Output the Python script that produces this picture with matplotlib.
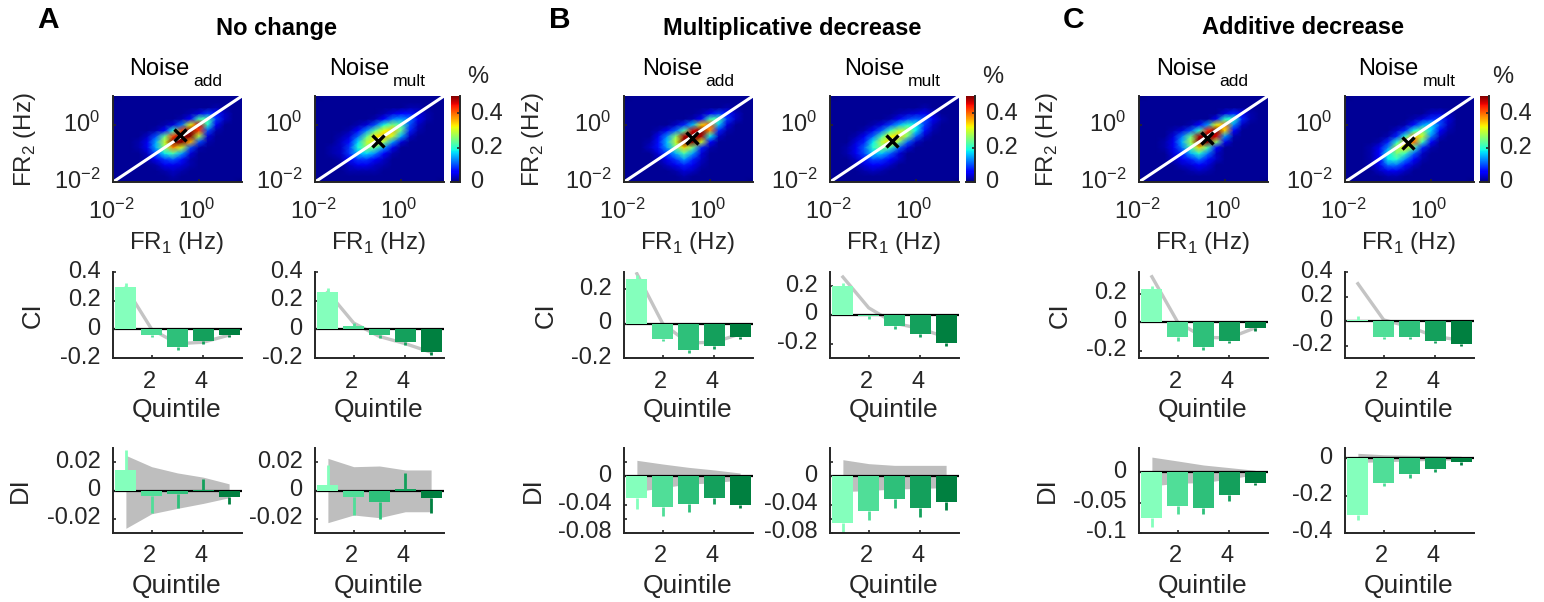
import numpy as np
import matplotlib
matplotlib.use("Agg")
import matplotlib.pyplot as plt
from matplotlib.transforms import ScaledTranslation

plt.rcParams["font.family"] = ["Liberation Sans", "DejaVu Sans"]

W, H = 1544, 602
TEXT = "#262626"

# panel order: A add, A mult, B add, B mult, C add, C mult
group_titles = ["No change", "Multiplicative decrease", "Additive decrease"]
group_letters = ["A", "B", "C"]
noise_subs = ["add", "mult"]
quintiles = [1, 2, 3, 4, 5]
bar_colors = ["#84FFBC", "#50DE98", "#2EC07A", "#14A05C", "#008040"]

# node positions of the heat maps, FR from 10^-2 to 10^1
grid_hz = [0.01, 0.016, 0.025, 0.04, 0.063, 0.1, 0.16, 0.25, 0.4, 0.63, 1.0, 1.6, 2.5, 4.0, 6.3, 10.0]

# heat map values in hundredths of a percent, top row first
heat_a_add = [
    [0, 1, 1, 1, 1, 1, 1, 1, 1, 1, 1, 1, 1, 1, 1, 1],
    [1, 1, 1, 1, 1, 1, 1, 1, 1, 1, 1, 1, 1, 1, 1, 1],
    [1, 1, 1, 1, 1, 1, 1, 1, 1, 1, 1, 1, 2, 1, 1, 1],
    [1, 1, 1, 1, 1, 1, 1, 1, 1, 2, 4, 9, 7, 3, 1, 1],
    [1, 1, 1, 1, 1, 1, 1, 1, 2, 6, 22, 22, 9, 3, 1, 1],
    [1, 1, 1, 1, 1, 1, 2, 4, 12, 32, 46, 20, 5, 1, 1, 1],
    [1, 1, 1, 1, 1, 2, 6, 20, 42, 50, 42, 10, 2, 1, 1, 1],
    [1, 1, 1, 1, 3, 10, 24, 42, 50, 50, 28, 4, 1, 1, 1, 1],
    [1, 1, 1, 2, 5, 15, 30, 50, 50, 36, 10, 2, 1, 1, 1, 1],
    [1, 1, 1, 2, 5, 15, 26, 38, 30, 10, 2, 1, 1, 1, 1, 1],
    [1, 1, 1, 1, 3, 10, 18, 22, 14, 4, 1, 1, 1, 1, 1, 1],
    [1, 1, 1, 1, 2, 5, 9, 11, 7, 2, 1, 1, 1, 1, 1, 1],
    [1, 1, 1, 1, 1, 2, 5, 5, 4, 2, 1, 1, 1, 1, 1, 1],
    [1, 1, 1, 1, 1, 1, 2, 3, 2, 1, 1, 1, 1, 1, 1, 1],
    [1, 1, 1, 1, 1, 1, 1, 2, 1, 1, 1, 1, 1, 1, 1, 1],
    [0, 1, 1, 1, 1, 1, 1, 1, 1, 1, 1, 1, 1, 1, 1, 0],
]
heat_a_mult = [
    [0, 1, 1, 1, 1, 1, 1, 1, 1, 1, 1, 1, 1, 1, 1, 1],
    [1, 1, 1, 1, 1, 1, 1, 1, 1, 1, 1, 1, 1, 1, 1, 1],
    [1, 1, 1, 1, 1, 1, 1, 1, 1, 1, 1, 2, 2, 1, 1, 1],
    [1, 1, 1, 1, 1, 1, 1, 1, 2, 4, 6, 7, 4, 2, 1, 1],
    [1, 1, 1, 1, 1, 1, 1, 2, 6, 12, 14, 12, 5, 2, 1, 1],
    [1, 1, 1, 1, 1, 2, 4, 10, 19, 25, 22, 10, 3, 1, 1, 1],
    [1, 1, 1, 1, 2, 6, 13, 23, 32, 35, 24, 8, 2, 1, 1, 1],
    [1, 1, 1, 2, 4, 11, 23, 33, 35, 30, 15, 3, 1, 1, 1, 1],
    [1, 1, 1, 3, 7, 17, 29, 33, 27, 14, 4, 1, 1, 1, 1, 1],
    [1, 1, 2, 3, 9, 19, 26, 23, 14, 5, 1, 1, 1, 1, 1, 1],
    [1, 1, 2, 3, 9, 15, 17, 13, 6, 2, 1, 1, 1, 1, 1, 1],
    [1, 1, 1, 2, 6, 9, 9, 6, 3, 1, 1, 1, 1, 1, 1, 1],
    [1, 1, 1, 1, 3, 5, 5, 3, 2, 1, 1, 1, 1, 1, 1, 1],
    [1, 1, 1, 1, 2, 2, 2, 2, 1, 1, 1, 1, 1, 1, 1, 1],
    [1, 1, 1, 1, 1, 1, 1, 1, 1, 1, 1, 1, 1, 1, 1, 1],
    [0, 1, 1, 1, 1, 1, 1, 1, 1, 1, 1, 1, 1, 1, 1, 0],
]
heat_b_add = [
    [0, 1, 1, 1, 1, 1, 1, 1, 1, 1, 1, 1, 1, 1, 1, 1],
    [1, 1, 1, 1, 1, 1, 1, 1, 1, 1, 1, 1, 1, 1, 1, 1],
    [1, 1, 1, 1, 1, 1, 1, 1, 1, 1, 1, 1, 2, 1, 1, 1],
    [1, 1, 1, 1, 1, 1, 1, 1, 1, 2, 5, 9, 7, 3, 1, 1],
    [1, 1, 1, 1, 1, 1, 1, 1, 2, 6, 22, 22, 9, 3, 1, 1],
    [1, 1, 1, 1, 1, 1, 3, 8, 16, 34, 40, 16, 4, 1, 1, 1],
    [1, 1, 1, 1, 2, 5, 11, 22, 46, 50, 38, 8, 2, 1, 1, 1],
    [1, 1, 1, 1, 5, 13, 26, 48, 50, 48, 18, 3, 1, 1, 1, 1],
    [1, 1, 1, 2, 7, 16, 30, 50, 50, 30, 6, 1, 1, 1, 1, 1],
    [1, 1, 1, 3, 7, 14, 24, 34, 24, 8, 2, 1, 1, 1, 1, 1],
    [1, 1, 1, 1, 4, 9, 15, 22, 14, 4, 1, 1, 1, 1, 1, 1],
    [1, 1, 1, 1, 2, 5, 9, 14, 8, 3, 1, 1, 1, 1, 1, 1],
    [1, 1, 1, 1, 1, 3, 5, 8, 5, 2, 1, 1, 1, 1, 1, 1],
    [1, 1, 1, 1, 1, 1, 2, 4, 3, 1, 1, 1, 1, 1, 1, 1],
    [1, 1, 1, 1, 1, 1, 1, 2, 1, 1, 1, 1, 1, 1, 1, 1],
    [0, 1, 1, 1, 1, 1, 1, 1, 1, 1, 1, 1, 1, 1, 1, 0],
]
heat_b_mult = [
    [0, 1, 1, 1, 1, 1, 1, 1, 1, 1, 1, 1, 1, 1, 1, 1],
    [1, 1, 1, 1, 1, 1, 1, 1, 1, 1, 1, 1, 1, 1, 1, 1],
    [1, 1, 1, 1, 1, 1, 1, 1, 1, 1, 1, 2, 1, 1, 1, 1],
    [1, 1, 1, 1, 1, 1, 1, 1, 2, 3, 4, 5, 3, 1, 1, 1],
    [1, 1, 1, 1, 1, 1, 1, 2, 5, 9, 11, 10, 5, 2, 1, 1],
    [1, 1, 1, 1, 1, 2, 4, 9, 15, 20, 18, 9, 3, 1, 1, 1],
    [1, 1, 1, 1, 2, 5, 11, 21, 29, 28, 18, 7, 2, 1, 1, 1],
    [1, 1, 1, 2, 5, 11, 22, 32, 34, 25, 11, 3, 1, 1, 1, 1],
    [1, 1, 1, 4, 8, 18, 29, 34, 25, 11, 3, 1, 1, 1, 1, 1],
    [1, 1, 2, 5, 11, 20, 25, 21, 11, 4, 1, 1, 1, 1, 1, 1],
    [1, 1, 2, 5, 10, 16, 16, 11, 4, 1, 1, 1, 1, 1, 1, 1],
    [1, 1, 1, 3, 7, 10, 9, 6, 3, 1, 1, 1, 1, 1, 1, 1],
    [1, 1, 1, 2, 4, 6, 5, 3, 1, 1, 1, 1, 1, 1, 1, 1],
    [1, 1, 1, 1, 2, 3, 2, 1, 1, 1, 1, 1, 1, 1, 1, 1],
    [1, 1, 1, 1, 1, 1, 1, 1, 1, 1, 1, 1, 1, 1, 1, 1],
    [0, 1, 1, 1, 1, 1, 1, 1, 1, 1, 1, 1, 1, 1, 1, 0],
]
heat_c_add = [
    [0, 1, 1, 1, 1, 1, 1, 1, 1, 1, 1, 1, 1, 1, 1, 1],
    [1, 1, 1, 1, 1, 1, 1, 1, 1, 1, 1, 1, 1, 1, 1, 1],
    [1, 1, 1, 1, 1, 1, 1, 1, 1, 1, 1, 1, 1, 1, 1, 1],
    [1, 1, 1, 1, 1, 1, 1, 1, 1, 1, 4, 8, 5, 2, 1, 1],
    [1, 1, 1, 1, 1, 1, 1, 1, 1, 5, 20, 20, 8, 2, 1, 1],
    [1, 1, 1, 1, 1, 1, 2, 6, 14, 32, 38, 13, 3, 1, 1, 1],
    [1, 1, 1, 1, 2, 4, 10, 20, 44, 50, 34, 6, 1, 1, 1, 1],
    [1, 1, 1, 1, 4, 12, 24, 48, 50, 46, 14, 2, 1, 1, 1, 1],
    [1, 1, 1, 2, 5, 15, 28, 50, 50, 26, 5, 1, 1, 1, 1, 1],
    [1, 1, 1, 2, 5, 12, 22, 34, 22, 6, 1, 1, 1, 1, 1, 1],
    [1, 1, 1, 1, 4, 8, 15, 20, 12, 3, 1, 1, 1, 1, 1, 1],
    [1, 1, 1, 1, 3, 5, 8, 12, 7, 3, 1, 1, 1, 1, 1, 1],
    [1, 1, 1, 1, 1, 3, 4, 6, 4, 1, 1, 1, 1, 1, 1, 1],
    [1, 1, 1, 1, 1, 1, 2, 3, 2, 1, 1, 1, 1, 1, 1, 1],
    [1, 1, 1, 1, 1, 1, 1, 1, 1, 1, 1, 1, 1, 1, 1, 1],
    [0, 1, 1, 1, 1, 1, 1, 1, 1, 1, 1, 1, 1, 1, 1, 0],
]
heat_c_mult = [
    [0, 1, 1, 1, 1, 1, 1, 1, 1, 1, 1, 1, 1, 1, 1, 1],
    [1, 1, 1, 1, 1, 1, 1, 1, 1, 1, 1, 1, 1, 1, 1, 1],
    [1, 1, 1, 1, 1, 1, 1, 1, 1, 1, 1, 1, 1, 1, 1, 1],
    [1, 1, 1, 1, 1, 1, 1, 1, 1, 1, 3, 4, 2, 1, 1, 1],
    [1, 1, 1, 1, 1, 1, 1, 1, 2, 4, 8, 9, 4, 1, 1, 1],
    [1, 1, 1, 1, 1, 1, 1, 2, 7, 14, 17, 10, 3, 1, 1, 1],
    [1, 1, 1, 1, 1, 1, 3, 8, 19, 25, 17, 6, 2, 1, 1, 1],
    [1, 1, 1, 1, 1, 2, 8, 20, 36, 30, 13, 3, 1, 1, 1, 1],
    [1, 1, 1, 1, 2, 8, 20, 36, 40, 21, 6, 1, 1, 1, 1, 1],
    [1, 1, 1, 2, 5, 13, 28, 33, 22, 8, 2, 1, 1, 1, 1, 1],
    [1, 1, 1, 2, 6, 18, 25, 21, 11, 3, 1, 1, 1, 1, 1, 1],
    [1, 1, 1, 2, 6, 18, 20, 13, 6, 2, 1, 1, 1, 1, 1, 1],
    [1, 1, 1, 2, 5, 12, 12, 7, 3, 1, 1, 1, 1, 1, 1, 1],
    [1, 1, 1, 1, 3, 5, 5, 3, 1, 1, 1, 1, 1, 1, 1, 1],
    [1, 1, 1, 1, 1, 2, 2, 1, 1, 1, 1, 1, 1, 1, 1, 1],
    [0, 1, 1, 1, 1, 1, 1, 1, 1, 1, 1, 1, 1, 1, 1, 0],
]
heat_maps = [heat_a_add, heat_a_mult, heat_b_add, heat_b_mult, heat_c_add, heat_c_mult]

# black cross on each heat map (FR1, FR2)
cross_fr1 = [0.37, 0.29, 0.38, 0.28, 0.38, 0.29]
cross_fr2 = [0.44, 0.28, 0.35, 0.275, 0.35, 0.235]

# CI row
ci_bars = [
    [0.295, -0.037, -0.126, -0.084, -0.037],
    [0.26, 0.026, -0.042, -0.09, -0.16],
    [0.262, -0.087, -0.156, -0.133, -0.075],
    [0.2, -0.005, -0.08, -0.136, -0.198],
    [0.229, -0.106, -0.176, -0.134, -0.044],
    [0.01, -0.126, -0.126, -0.159, -0.183],
]
ci_tips = [
    [0.32, -0.056, -0.142, -0.102, -0.05],
    [0.286, 0.042, -0.06, -0.107, -0.18],
    [0.285, -0.104, -0.173, -0.146, -0.087],
    [0.222, -0.025, -0.1, -0.155, -0.217],
    [0.252, -0.13, -0.197, -0.148, -0.06],
    [0.038, -0.145, -0.148, -0.18, -0.2],
]
ci_lines = [
    [0.29, 0.0, -0.1, -0.09, -0.04],
    [0.26, 0.044, -0.05, -0.1, -0.16],
    [0.29, 0.0, -0.113, -0.108, -0.06],
    [0.265, 0.05, -0.057, -0.095, -0.155],
    [0.317, 0.0, -0.106, -0.11, -0.04],
    [0.305, 0.01, -0.046, -0.126, -0.154],
]
ci_ylims = [(-0.2, 0.4), (-0.2, 0.4), (-0.2, 0.3), (-0.3, 0.3), (-0.25, 0.35), (-0.3, 0.4)]
ci_ticks = [
    [-0.2, 0, 0.2, 0.4],
    [-0.2, 0, 0.2, 0.4],
    [-0.2, 0, 0.2],
    [-0.2, 0, 0.2],
    [-0.2, 0, 0.2],
    [-0.2, 0, 0.2, 0.4],
]
ci_labels = [
    ["-0.2", "0", "0.2", "0.4"],
    ["-0.2", "0", "0.2", "0.4"],
    ["-0.2", "0", "0.2"],
    ["-0.2", "0", "0.2"],
    ["-0.2", "0", "0.2"],
    ["-0.2", "0", "0.2", "0.4"],
]

# DI row
di_bars = [
    [0.0147, -0.004, -0.0028, 0.0007, -0.0047],
    [0.0042, -0.0047, -0.0082, 0.0012, -0.0054],
    [-0.031, -0.0438, -0.0395, -0.031, -0.041],
    [-0.0664, -0.0494, -0.0325, -0.0452, -0.0367],
    [-0.076, -0.0563, -0.058, -0.038, -0.017],
    [-0.306, -0.131, -0.083, -0.057, -0.019],
]
di_tips = [
    [0.0288, -0.0157, -0.0126, 0.0082, -0.0094],
    [0.0182, -0.0173, -0.0201, 0.0126, -0.0159],
    [-0.0466, -0.0565, -0.05, -0.0395, -0.045],
    [-0.081, -0.062, -0.045, -0.0574, -0.048],
    [-0.0907, -0.0689, -0.0694, -0.0475, -0.0213],
    [-0.331, -0.147, -0.104, -0.073, -0.034],
]
di_upper = [
    [0.0248, 0.0168, 0.0124, 0.0094, 0.0047],
    [0.0227, 0.0168, 0.0173, 0.0145, 0.0145],
    [0.0226, 0.0174, 0.0127, 0.009, 0.0047],
    [0.0235, 0.0179, 0.0155, 0.0155, 0.0155],
    [0.025, 0.0186, 0.012, 0.0077, 0.0033],
    [0.0265, 0.019, 0.016, 0.014, 0.011],
]
di_lower = [
    [-0.0267, -0.0164, -0.0126, -0.0091, -0.0051],
    [-0.0227, -0.0173, -0.0192, -0.015, -0.015],
    [-0.0216, -0.016, -0.011, -0.009, -0.005],
    [-0.0216, -0.02, -0.018, -0.017, -0.016],
    [-0.0224, -0.018, -0.017, -0.011, -0.004],
    [-0.023, -0.018, -0.015, -0.011, -0.009],
]
di_ylims = [(-0.03, 0.03), (-0.03, 0.03), (-0.08, 0.04), (-0.08, 0.04), (-0.1, 0.04), (-0.4, 0.055)]
di_ticks = [
    [-0.02, 0, 0.02],
    [-0.02, 0, 0.02],
    [-0.08, -0.06, -0.04, 0, 0.02],
    [-0.08, -0.06, -0.04, 0, 0.02],
    [-0.1, -0.05, 0],
    [-0.4, -0.2, 0],
]
di_labels = [
    ["-0.02", "0", "0.02"],
    ["-0.02", "0", "0.02"],
    ["-0.08", "", "-0.04", "0", ""],
    ["-0.08", "", "-0.04", "0", ""],
    ["-0.1", "-0.05", "0"],
    ["-0.4", "-0.2", "0"],
]

# pixel layout
axes_left = [113, 315, 624, 830, 1139, 1345]
axes_width = 129
noise_x = [129, 329, 642, 844, 1156, 1358]
sub_x = [193, 393, 705, 908, 1219, 1423]
cbar_left = [451, 966, 1480]
percent_x = [478, 993, 1503]
title_x = [277, 792, 1303]
letter_x = [49, 561, 1075]
fr_label_x = [25, 533, 1047]
ci_label_x = [33, 546, 1060]
di_label_x = [20, 533, 1047]


def add_axes_px(fig, left, top, right, bottom):
    return fig.add_axes([left / W, 1 - bottom / H, (right - left) / W, (bottom - top) / H])


def fig_text(fig, x, y, s, **kwargs):
    kwargs.setdefault("ha", "center")
    kwargs.setdefault("va", "center")
    kwargs.setdefault("color", TEXT)
    return fig.text(x / W, 1 - y / H, s, **kwargs)


def shift_labels(fig, ax):
    # tick labels sit a little off their ticks in the original
    up = ScaledTranslation(0, 3 / fig.dpi, fig.dpi_scale_trans)
    left = ScaledTranslation(-2 / fig.dpi, 0, fig.dpi_scale_trans)
    for label in ax.get_yticklabels():
        label.set_transform(label.get_transform() + up)
    for label in ax.get_xticklabels():
        label.set_transform(label.get_transform() + left)


def style_ax(ax):
    ax.spines["top"].set_visible(False)
    ax.spines["right"].set_visible(False)
    ax.spines["left"].set_linewidth(1.4)
    ax.spines["bottom"].set_linewidth(1.4)
    ax.spines["left"].set_color(TEXT)
    ax.spines["bottom"].set_color(TEXT)
    ax.tick_params(direction="in", length=2, width=1.2, color=TEXT, labelcolor=TEXT, labelsize=17, pad=9)


def draw_heat(fig, ax, n):
    values = np.array(heat_maps[n])[::-1] / 100
    mesh = ax.pcolormesh(grid_hz, grid_hz, values, cmap="jet", vmin=0, vmax=0.5, shading="gouraud")
    ax.set_xscale("log")
    ax.set_yscale("log")
    ax.set_xlim(0.01, 10)
    ax.set_ylim(0.01, 10)
    ax.plot([0.01, 10], [0.01, 10], color="white", lw=2.2, clip_on=False, solid_capstyle="butt")
    ax.plot(cross_fr1[n], cross_fr2[n], "x", color="black", ms=9, mew=2.4)
    ax.set_xticks([0.01, 1])
    ax.set_yticks([0.01, 1])
    ax.set_xticklabels([r"$\mathregular{10^{-2}}$", r"$\mathregular{10^{0}}$"])
    ax.set_yticklabels([r"$\mathregular{10^{-2}}$", r"$\mathregular{10^{0}}$"])
    ax.minorticks_off()
    style_ax(ax)
    ax.tick_params(axis="x", pad=12)
    shift_labels(fig, ax)
    return mesh


def draw_bars(fig, ax, bars, tips, ylim, ticks, labels):
    ax.axhline(0, color="black", lw=1.6, zorder=1.5)
    ax.bar(quintiles, bars, width=0.82, color=bar_colors, zorder=2)
    ax.vlines(quintiles, bars, tips, colors=bar_colors, lw=2, zorder=2)
    ax.set_xlim(0.5, 5.5)
    ax.set_ylim(*ylim)
    ax.set_xticks([2, 4])
    ax.set_yticks(ticks)
    ax.set_yticklabels(labels)
    style_ax(ax)
    shift_labels(fig, ax)


fig = plt.figure(figsize=(W / 100, H / 100), dpi=100)

for n in range(6):
    g = n // 2
    col = n % 2
    left = axes_left[n]
    right = left + axes_width
    center = left + axes_width / 2

    ax = add_axes_px(fig, left, 96, right, 182)
    mesh = draw_heat(fig, ax, n)
    fig_text(fig, center - 1, 243, r"FR$_{\mathregular{1}}$ (Hz)", fontsize=17.3)

    fig_text(fig, noise_x[n], 75, "Noise", fontsize=17, ha="left", va="baseline", color="black")
    fig_text(fig, sub_x[n], 86, noise_subs[col], fontsize=12.6, ha="left", va="baseline", color="black")

    ax = add_axes_px(fig, left, 272, right, 358)
    draw_bars(fig, ax, ci_bars[n], ci_tips[n], ci_ylims[n], ci_ticks[n], ci_labels[n])
    ax.plot(quintiles, ci_lines[n], color="#c4c4c4", lw=2.4, zorder=1)
    fig_text(fig, center - 1, 410, "Quintile", fontsize=19)

    ax = add_axes_px(fig, left, 448, right, 533)
    ax.fill_between(quintiles, di_lower[n], di_upper[n], color="#bebebe", lw=0, zorder=1)
    draw_bars(fig, ax, di_bars[n], di_tips[n], di_ylims[n], di_ticks[n], di_labels[n])
    fig_text(fig, center - 1, 586, "Quintile", fontsize=19)

    if col == 1:
        cax = add_axes_px(fig, cbar_left[g], 96, cbar_left[g] + 9, 182)
        cb = fig.colorbar(mesh, cax=cax, ticks=[0, 0.2, 0.4])
        cb.ax.set_yticklabels(["0", "0.2", "0.4"])
        cb.outline.set_visible(False)
        cax.spines["right"].set_visible(True)
        cax.spines["right"].set_color(TEXT)
        cax.spines["right"].set_linewidth(1.4)
        cax.spines["bottom"].set_visible(True)
        cax.spines["bottom"].set_color(TEXT)
        cax.spines["bottom"].set_linewidth(1.4)
        cax.tick_params(direction="in", length=2, width=1.2, color=TEXT, labelcolor=TEXT, labelsize=17, pad=7)
        up = ScaledTranslation(0, 2 / fig.dpi, fig.dpi_scale_trans)
        for label in cax.get_yticklabels():
            label.set_transform(label.get_transform() + up)
        fig_text(fig, percent_x[g], 77, "%", fontsize=17)

for g in range(3):
    fig_text(fig, title_x[g], 28, group_titles[g], fontsize=17, fontweight="bold", color="black")
    fig_text(fig, letter_x[g] - 1, 20, group_letters[g], fontsize=21.5, fontweight="bold", color="black")
    fig_text(fig, fr_label_x[g], 140, r"FR$_{\mathregular{2}}$ (Hz)", fontsize=17.3, rotation=90)
    fig_text(fig, ci_label_x[g], 315, "CI", fontsize=18.5, rotation=90)
    fig_text(fig, di_label_x[g], 490, "DI", fontsize=18.5, rotation=90)

fig.savefig("out.png", dpi=100)
